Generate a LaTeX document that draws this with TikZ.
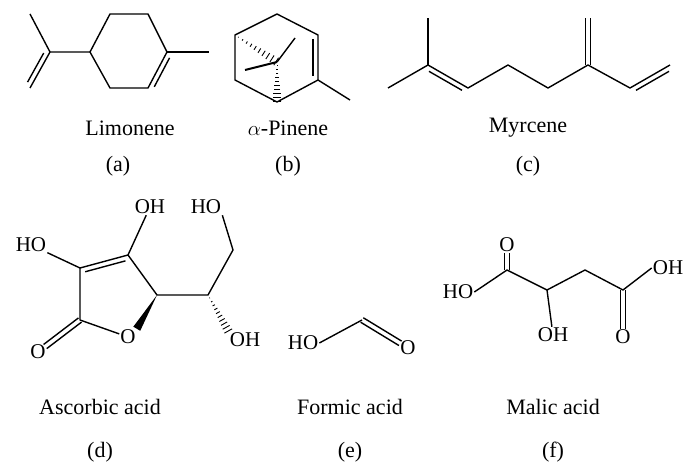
\documentclass[tikz,border=0pt]{standalone}
\usepackage{fontspec}
\setmainfont{Liberation Serif}
\usetikzlibrary{calc}
\tikzstyle{atom}=[inner sep=1pt,font=\fontsize{21}{24}\selectfont]
\tikzstyle{lbl}=[font=\fontsize{22}{26}\selectfont]
\tikzstyle{bd}=[line width=1.4pt]
\newcommand\dbond[3]{\draw[bd,shorten <=4pt,shorten >=4pt] ($(#1)!5pt!#3:(#2)$) -- ($(#2)!5pt!-#3:(#1)$);}
\newcommand\cobond[2]{\draw[bd] ($(#1)!2.6pt!90:(#2)$) -- ($(#2)!2.6pt!-90:(#1)$);
  \draw[bd] ($(#1)!2.6pt!-90:(#2)$) -- ($(#2)!2.6pt!90:(#1)$);}
\newcommand\hashbond[2]{\foreach \t in {0.08,0.18,...,0.98} \draw[line width=.9pt] ($(#1)!\t!(#2)!{\t*4.5pt}!90:(#2)$) -- ($(#1)!\t!(#2)!{\t*4.5pt}!-90:(#2)$);}
\newcommand\wedgebond[2]{\fill (#1) -- ($(#2)!4pt!90:(#1)$) -- ($(#2)!4pt!-90:(#1)$) -- cycle;}

\begin{document}
\begin{tikzpicture}[x=1pt,y=-1pt,line join=round]
\useasboundingbox (0,0) rectangle (698,470);
% limonene
\coordinate (l1) at (110,14); \coordinate (l2) at (148,14); \coordinate (l3) at (167,52);
\coordinate (l4) at (148,88); \coordinate (l5) at (110,88); \coordinate (l6) at (90,52);
\coordinate (lm) at (209,52); \coordinate (li) at (50,52);
\coordinate (lt) at (30,14); \coordinate (lb) at (30,88);
\draw[bd] (l1) -- (l2) -- (l3) -- (l4) -- (l5) -- (l6) -- cycle;
\draw[bd] (l3) -- (lm); \draw[bd] (l6) -- (li) -- (lt); \draw[bd] (li) -- (lb);
\dbond{l3}{l4}{90}
\dbond{li}{lb}{-90}
\node[lbl] (limonene) at (130,128) {Limonene};
\node[lbl] (a) at (118,166) {(a)};
% pinene
\coordinate (p1) at (235,35); \coordinate (p2) at (277,14); \coordinate (p3) at (318,35);
\coordinate (p4) at (318,80); \coordinate (p5) at (277,102); \coordinate (p6) at (235,80);
\coordinate (pb) at (277,62); \coordinate (pm) at (350,100);
\coordinate (pm1) at (295,38); \coordinate (pm2) at (245,70);
\draw[bd] (p1) -- (p2) -- (p3) -- (p4) -- (p5) -- (p6) -- cycle;
\draw[bd] (p4) -- (pm); \draw[bd] (pb) -- (pm1);
\draw[line width=2pt] (pb) -- (pm2);
\dbond{p3}{p4}{-90}
\hashbond{p1}{pb}
\hashbond{pb}{p5}
\node[lbl] (pinene) at (288,128) {$\alpha$-Pinene};
\node[lbl] (b) at (288,166) {(b)};
% myrcene
\coordinate (m1) at (388,88); \coordinate (m2) at (428,65); \coordinate (m3) at (428,18);
\coordinate (m4) at (468,88); \coordinate (m5) at (508,65); \coordinate (m6) at (548,88);
\coordinate (m7) at (588,65); \coordinate (m8) at (588,18); \coordinate (m9) at (630,88);
\coordinate (m10) at (670,65);
\draw[bd] (m1) -- (m2) -- (m4) -- (m5) -- (m6) -- (m7) -- (m9) -- (m10);
\draw[bd] (m2) -- (m3);
\cobond{m7}{m8}
\dbond{m2}{m4}{-90}
\dbond{m9}{m10}{-90}
\node[lbl] (myrcene) at (528,128) {Myrcene};
\node[lbl] (c) at (528,166) {(c)};
% ascorbic acid
\node[atom] (aho) at (31,245) {HO};
\node[atom] (aoh) at (150,207) {OH};
\node[atom] (ahor) at (206,207) {HO};
\node[atom] (ao) at (128,337) {O};
\node[atom] (aox) at (38,352) {O};
\node[atom] (aohb) at (245,340) {OH};
\coordinate (a3) at (80,268); \coordinate (a2) at (128,255); \coordinate (a4) at (157,295);
\coordinate (a1) at (80,320); \coordinate (a5) at (208,295); \coordinate (a6) at (233,250);
\coordinate (aoe) at ($(aox)!9pt!(a1)$);
\draw[bd] (aho) -- (a3) -- (a2) -- (aoh); \draw[bd] (a2) -- (a4) -- (a5) -- (a6) -- (ahor.south east);
\draw[bd] (a3) -- (a1) -- (ao);
\dbond{a3}{a2}{-90}
\cobond{a1}{aoe}
\wedgebond{a4}{ao.north east}
\hashbond{a5}{aohb.north west}
\node[lbl] (ascorbic) at (100,407) {Ascorbic acid};
\node[lbl] (d) at (100,452) {(d)};
% formic acid
\node[atom] (fho) at (303,343) {HO};
\node[atom] (fo) at (408,348) {O};
\coordinate (fc) at (362,320);
\coordinate (foe) at ($(fo)!9pt!(fc)$);
\draw[bd] (fho.east) -- (fc);
\cobond{fc}{foe}
\node[lbl] (formic) at (350,407) {Formic acid};
\node[lbl] (e) at (350,452) {(e)};
% malic acid
\node[atom] (mo1) at (507,245) {O};
\node[atom] (mho) at (458,292) {HO};
\node[atom] (moh) at (553,335) {OH};
\node[atom] (moh2) at (668,268) {OH};
\node[atom] (mo2) at (623,337) {O};
\coordinate (c1) at (507,270); \coordinate (c2) at (547,290); \coordinate (c3) at (585,270);
\coordinate (c4) at (623,290);
\draw[bd] (mho.east) -- (c1) -- (c2) -- (c3) -- (c4) -- (moh2.west);
\draw[bd] (c2) -- (moh);
\cobond{c1}{mo1.south}
\cobond{c4}{mo2.north}
\node[lbl] (malic) at (553,407) {Malic acid};
\node[lbl] (f) at (553,452) {(f)};
\end{tikzpicture}
\end{document}
